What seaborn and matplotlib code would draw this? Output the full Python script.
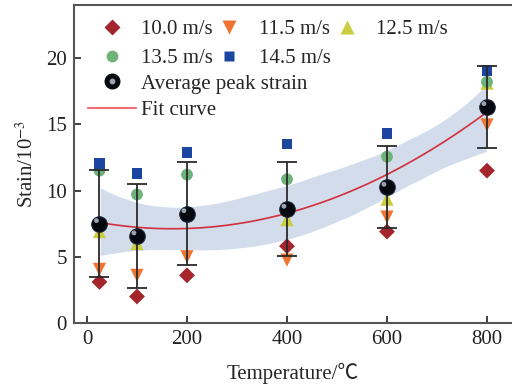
import numpy as np
import pandas as pd
import seaborn as sns
import matplotlib.pyplot as plt
from matplotlib import transforms
from matplotlib.lines import Line2D

# strain (10^-3) vs temperature
temps = [25, 100, 200, 400, 600, 800]
s100 = [3.1, 2.0, 3.6, 5.8, 6.9, 11.5]
s115 = [4.05, 3.6, 5.0, 4.75, 8.0, 14.95]
s125 = [6.9, 6.0, 8.4, 7.8, 9.35, 18.1]
s135 = [11.5, 9.7, 11.2, 10.85, 12.55, 18.2]
s145 = [12.05, 11.3, 12.85, 13.5, 14.3, 19.05]
avg = [7.5, 6.57, 8.25, 8.58, 10.24, 16.33]
err = [4.05, 3.95, 3.9, 3.55, 3.1, 3.1]
labels = ['10.0 m/s', '11.5 m/s', '12.5 m/s', '13.5 m/s', '14.5 m/s']

series = [s100, s115, s125, s135, s145]
df = pd.DataFrame({'T': temps * 5,
                   'strain': sum(series, []),
                   'speed': [l for l in labels for _ in temps]})

colors = {'10.0 m/s': '#A4262C', '11.5 m/s': '#F07431', '12.5 m/s': '#C9CD3E',
          '13.5 m/s': '#6DB37A', '14.5 m/s': '#1B45A0'}
markers = {'10.0 m/s': 'D', '11.5 m/s': 'v', '12.5 m/s': '^',
           '13.5 m/s': 'o', '14.5 m/s': 's'}
sizes = {'10.0 m/s': 65, '11.5 m/s': 90, '12.5 m/s': 90, '13.5 m/s': 72, '14.5 m/s': 58}

sns.set_style('ticks')
plt.rcParams['font.family'] = ['Liberation Serif', 'Noto Sans CJK SC']
plt.rcParams['mathtext.fontset'] = 'stix'
FS = 15
plt.rcParams['font.size'] = FS

fig = plt.figure(figsize=(5.12, 3.88), dpi=100)
ax = fig.add_axes([0.1445, 0.1675, 0.8555, 0.8195])

# quadratic fit with confidence band
sns.regplot(data=df, x='T', y='strain', order=2, scatter=False, ci=95, seed=3,
            n_boot=6000, color='#D32F3C', line_kws={'lw': 1.2, 'zorder': 2}, ax=ax)
for c in ax.collections:
    c.set_facecolor('#D2DCEB')
    c.set_alpha(1)
    c.set_zorder(1)

for lab in labels:
    sub = df[df.speed == lab]
    sns.scatterplot(data=sub, x='T', y='strain', marker=markers[lab], s=sizes[lab],
                    color=colors[lab], edgecolor='none', ax=ax, zorder=3, legend=False)

ax.errorbar(temps, avg, yerr=err, fmt='none', ecolor='#2a2a2a', elinewidth=1.3,
            capsize=7, capthick=1.3, zorder=4)

# "sphere" markers
ax.scatter(temps, avg, s=125, color='#05080f', edgecolor='#1a2233', lw=0.8, zorder=5)
hl = transforms.offset_copy(ax.transData, fig=fig, x=-2.2, y=2.2, units='points')
ax.scatter(temps, avg, s=12, color='#9aa4b0', edgecolor='none', transform=hl, zorder=6)

ax.set_xlim(-26, 850)
ax.set_ylim(0, 24)
ax.set_xticks([0, 200, 400, 600, 800])
ax.set_yticks([0, 5, 10, 15, 20])
ax.set_xlabel('Temperature/\u2103', fontsize=FS, labelpad=10)
ax.set_ylabel('Stain/10$^{-3}$', fontsize=FS, labelpad=6)
ax.tick_params(direction='in', length=5, width=1.2, labelsize=FS, colors='#222222', pad=5)
for side in ['left', 'bottom', 'top']:
    ax.spines[side].set_color('#555555')
    ax.spines[side].set_linewidth(1.5)
ax.spines['right'].set_visible(False)

h = {lab: Line2D([], [], ls='none', marker=markers[lab], color=colors[lab],
                 markersize=np.sqrt(sizes[lab]), mec='none') for lab in labels}
order = ['10.0 m/s', '13.5 m/s', '11.5 m/s', '14.5 m/s', '12.5 m/s']
leg1 = ax.legend([h[o] for o in order], order, ncol=3, frameon=False, fontsize=FS,
                 loc='upper left', bbox_to_anchor=(0.0575, 0.955), handletextpad=0.8,
                 columnspacing=0.2, handlelength=1.2, labelspacing=0.46,
                 borderaxespad=0, borderpad=0)
ax.add_artist(leg1)
sphere = (Line2D([], [], ls='none', marker='o', color='#05080f', markersize=10.5),
          Line2D([], [], ls='none', marker='o', color='#9aa4b0', markersize=3.2))
fitl = Line2D([], [], color='#EE6A6E', lw=1.5)
ax.legend([sphere, fitl], ['Average peak strain', 'Fit curve'], frameon=False,
          fontsize=FS, loc='upper left', bbox_to_anchor=(0.032, 0.783),
          handletextpad=0.24, handlelength=2.3, labelspacing=0.34,
          borderaxespad=0, borderpad=0)

fig.savefig('out.png', dpi=100)
